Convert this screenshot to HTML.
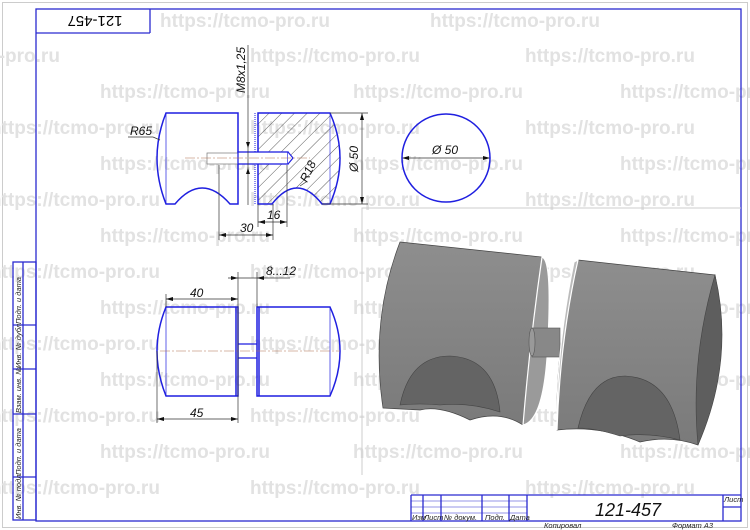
<!DOCTYPE html>
<html><head><meta charset="utf-8"><style>
html,body{margin:0;padding:0;background:#fff;}
svg{display:block;}
text{font-family:"Liberation Sans",sans-serif;}
</style></head><body>
<svg width="750" height="530" viewBox="0 0 750 530" xmlns="http://www.w3.org/2000/svg">
<defs>
<pattern id="hat" patternUnits="userSpaceOnUse" width="9" height="9" patternTransform="rotate(45)">
<line x1="0" y1="0" x2="0" y2="9" stroke="#333" stroke-width="0.8"/>
</pattern>
<linearGradient id="gb" x1="0" y1="0" x2="0" y2="1">
<stop offset="0" stop-color="#8e8e8e"/><stop offset="1" stop-color="#7a7a7a"/>
</linearGradient>
<clipPath id="sec"><path d="M258,113 L330,113 Q350,158 330,204 L322,204 Q297,172 272,204 L258,204 Z"/></clipPath>
</defs>
<rect x="0" y="0" width="750" height="530" fill="#fff"/>
<rect x="2.5" y="2.5" width="745" height="525" fill="none" stroke="#ccc"/>

<!-- watermarks -->
<g font-size="19" font-weight="bold" fill="#e2e2e2">
<text x="160" y="27">https://tcmo-pro.ru</text><text x="430" y="27">https://tcmo-pro.ru</text>
<text x="-110" y="62">https://tcmo-pro.ru</text><text x="250" y="62">https://tcmo-pro.ru</text><text x="525" y="62">https://tcmo-pro.ru</text>
<text x="100" y="98">https://tcmo-pro.ru</text><text x="353" y="98">https://tcmo-pro.ru</text><text x="620" y="98">https://tcmo-pro.ru</text>
<text x="-10" y="134">https://tcmo-pro.ru</text><text x="250" y="134">https://tcmo-pro.ru</text><text x="525" y="134">https://tcmo-pro.ru</text>
<text x="100" y="170">https://tcmo-pro.ru</text><text x="353" y="170">https://tcmo-pro.ru</text><text x="620" y="170">https://tcmo-pro.ru</text>
<text x="-10" y="206">https://tcmo-pro.ru</text><text x="250" y="206">https://tcmo-pro.ru</text><text x="525" y="206">https://tcmo-pro.ru</text>
<text x="100" y="242">https://tcmo-pro.ru</text><text x="353" y="242">https://tcmo-pro.ru</text><text x="620" y="242">https://tcmo-pro.ru</text>
<text x="-10" y="278">https://tcmo-pro.ru</text><text x="250" y="278">https://tcmo-pro.ru</text><text x="525" y="278">https://tcmo-pro.ru</text>
<text x="100" y="314">https://tcmo-pro.ru</text><text x="353" y="314">https://tcmo-pro.ru</text><text x="620" y="314">https://tcmo-pro.ru</text>
<text x="-10" y="350">https://tcmo-pro.ru</text><text x="250" y="350">https://tcmo-pro.ru</text><text x="525" y="350">https://tcmo-pro.ru</text>
<text x="100" y="386">https://tcmo-pro.ru</text><text x="353" y="386">https://tcmo-pro.ru</text><text x="620" y="386">https://tcmo-pro.ru</text>
<text x="-10" y="422">https://tcmo-pro.ru</text><text x="250" y="422">https://tcmo-pro.ru</text><text x="525" y="422">https://tcmo-pro.ru</text>
<text x="100" y="458">https://tcmo-pro.ru</text><text x="353" y="458">https://tcmo-pro.ru</text><text x="620" y="458">https://tcmo-pro.ru</text>
<text x="-10" y="494">https://tcmo-pro.ru</text><text x="250" y="494">https://tcmo-pro.ru</text><text x="525" y="494">https://tcmo-pro.ru</text>
</g>

<!-- frame -->
<g stroke="#2a2ad0" fill="none" stroke-width="1.3">
<rect x="36" y="9" width="705" height="512"/>
<line x1="36" y1="33" x2="150" y2="33"/><line x1="150" y1="9" x2="150" y2="33"/>
<rect x="13" y="262" width="23" height="258"/>
<line x1="23" y1="262" x2="23" y2="520"/>
<line x1="13" y1="325" x2="36" y2="325"/><line x1="13" y1="369" x2="36" y2="369"/>
<line x1="13" y1="414" x2="36" y2="414"/><line x1="13" y1="477" x2="36" y2="477"/>
<line x1="411" y1="495" x2="741" y2="495"/>
<line x1="411" y1="495" x2="411" y2="521"/>
<line x1="423" y1="495" x2="423" y2="521"/><line x1="441" y1="495" x2="441" y2="521"/>
<line x1="482" y1="495" x2="482" y2="521"/><line x1="509" y1="495" x2="509" y2="521"/>
<line x1="527" y1="495" x2="527" y2="521"/><line x1="723" y1="495" x2="723" y2="521"/>
<line x1="723" y1="507" x2="741" y2="507"/>
</g>
<g stroke="#2a2ad0" stroke-width="0.6">
<line x1="411" y1="501" x2="527" y2="501"/><line x1="411" y1="507" x2="527" y2="507"/><line x1="411" y1="513" x2="527" y2="513"/>
</g>
<text x="95" y="28" font-size="15" text-anchor="middle" transform="rotate(180 95 22)">121-457</text>
<g font-size="7.5" font-style="italic" fill="#222">
<text x="412" y="520">Изм</text><text x="424" y="520">Лист</text><text x="444" y="520">№ докум.</text><text x="485" y="520">Подп.</text><text x="510" y="520">Дата</text>
<text x="724" y="502">Лист</text>
<text x="544" y="528">Копировал</text><text x="672" y="528">Формат А3</text>
<g transform="rotate(-90)">
<text x="-519" y="21">Инв. № подл.</text><text x="-475" y="21">Подп. и дата</text><text x="-413" y="21">Взам. инв. №</text><text x="-368" y="21">Инв. № дубл.</text><text x="-324" y="21">Подп. и дата</text>
</g>
</g>
<text x="628" y="516" font-size="18" font-style="italic" text-anchor="middle" fill="#111">121-457</text>

<!-- 3D area -->
<path d="M362,475 L362,208 L741,208" fill="none" stroke="#ccc"/>
<path d="M400,242 L542,257 Q530,340 523,425 Q500,410 470,420 Q440,405 420,410 L383,408 Q370,320 400,242 Z" fill="url(#gb)" stroke="#444" stroke-width="0.7"/>
<path d="M542,257 Q552,260 548,340 Q545,420 523,425 Q530,340 542,257Z" fill="#9a9a9a" stroke="#fff" stroke-width="1.2"/>
<path d="M400,405 Q410,356 450,356 Q495,358 500,412 Q470,402 440,405 Q420,403 400,405Z" fill="#646464" stroke="#444" stroke-width="0.6"/>
<rect x="532" y="328" width="28" height="29" fill="#888" stroke="#555" stroke-width="0.6"/>
<ellipse cx="532" cy="342" rx="3" ry="14" fill="#999" stroke="#555" stroke-width="0.6"/>
<path d="M578,260 L715,275 Q732,360 698,445 Q670,435 640,442 Q600,425 557,430 Q555,340 578,260Z" fill="url(#gb)" stroke="#444" stroke-width="0.7"/>
<path d="M578,260 Q560,340 557,430 Q556,350 574,262Z" fill="#bbb" stroke="#fff" stroke-width="1.2"/>
<path d="M715,275 Q735,360 698,445 Q690,360 715,275Z" fill="#5e5e5e" stroke="#444" stroke-width="0.6"/>
<path d="M578,428 Q590,376 625,376 Q672,378 680,440 Q650,432 620,436 Q595,428 578,428Z" fill="#646464" stroke="#444" stroke-width="0.6"/>

<!-- top view left -->
<g fill="none" stroke="#1f1fe0" stroke-width="1.5">
<path d="M166,113 L238,113 L238,204 L230,204 Q202,172 175,204 L166,204 Q148,158 166,113 Z"/>
<line x1="166" y1="113" x2="166" y2="204" stroke-width="0.7"/>
</g>
<rect x="250" y="105" width="100" height="110" fill="url(#hat)" clip-path="url(#sec)"/>
<path d="M258,113 L330,113 Q350,158 330,204 L322,204 Q297,172 272,204 L258,204 Z" fill="none" stroke="#1f1fe0" stroke-width="1.5"/>
<line x1="330" y1="113" x2="330" y2="204" stroke="#1f1fe0" stroke-width="0.6"/>
<line x1="255" y1="113" x2="255" y2="204" stroke="#1f1fe0" stroke-width="1" stroke-dasharray="1,1"/>
<rect x="207" y="153" width="31" height="11" fill="#fff" stroke="#777" stroke-width="0.7"/>
<rect x="238" y="152" width="50" height="12" fill="#fff" stroke="#1f1fe0" stroke-width="1.3"/>
<path d="M288,152 L293,158 L288,164" fill="#fff" stroke="#1f1fe0" stroke-width="1.2"/>
<line x1="185" y1="158" x2="310" y2="158" stroke="#b07050" stroke-width="0.6" stroke-dasharray="10,2,2,2"/>
<g stroke="#333" stroke-width="0.7" fill="none">
<line x1="248" y1="45" x2="248" y2="205"/>
<line x1="330" y1="113" x2="368" y2="113"/><line x1="322" y1="204" x2="368" y2="204"/>
<line x1="362" y1="113" x2="362" y2="204"/>
<line x1="219" y1="165" x2="219" y2="240"/><line x1="273" y1="204" x2="273" y2="240"/>
<line x1="258" y1="204" x2="258" y2="227"/><line x1="287" y1="165" x2="287" y2="227"/>
<line x1="219" y1="235" x2="273" y2="235"/><line x1="258" y1="222" x2="287" y2="222"/>
<line x1="128" y1="137" x2="153" y2="137"/><line x1="153" y1="137" x2="160" y2="140"/>
<line x1="300" y1="186" x2="306" y2="182"/>
<line x1="402" y1="158" x2="490" y2="158"/>
</g>
<g fill="#111">
<path d="M362,113 l-2,7 h4z"/><path d="M362,204 l-2,-7 h4z"/>
<path d="M219,235 l7,-2 v4z"/><path d="M273,235 l-7,-2 v4z"/>
<path d="M258,222 l7,-2 v4z"/><path d="M287,222 l-7,-2 v4z"/>
<path d="M402,158 l7,-2 v4z"/><path d="M490,158 l-7,-2 v4z"/>
<path d="M248,148 l-2,-6 h4z"/><path d="M248,168 l-2,6 h4z"/>
</g>
<circle cx="446" cy="158" r="44" fill="none" stroke="#1f1fe0" stroke-width="1.5"/>
<g font-size="12" font-style="italic" fill="#111">
<text x="432" y="154">Ø 50</text>
<text x="130" y="135">R65</text>
<text x="240" y="232">30</text><text x="267" y="219">16</text>
<text transform="translate(358,172) rotate(-90)">Ø 50</text>
<text transform="translate(245,93) rotate(-90)">M8x1,25</text>
<text transform="translate(307,183) rotate(-65)">R18</text>
<text x="190" y="297">40</text><text x="190" y="417">45</text>
<text x="266" y="275">8...12</text>
</g>

<!-- bottom view -->
<g fill="none" stroke="#1f1fe0" stroke-width="1.5">
<path d="M166,307 L238,307 L238,396 L166,396 Q148,351 166,307Z"/>
<line x1="166" y1="307" x2="166" y2="396" stroke-width="0.7"/>
<line x1="236" y1="307" x2="236" y2="396"/>
<path d="M257,307 L330,307 Q350,351 330,396 L257,396 Z"/>
<line x1="259" y1="307" x2="259" y2="396"/>
<line x1="330" y1="307" x2="330" y2="396" stroke-width="0.7"/>
<path d="M238,344 H257 M238,358 H257" stroke-width="1.2"/>
</g>
<line x1="160" y1="351" x2="340" y2="351" stroke="#b07050" stroke-width="0.6" stroke-dasharray="10,2,2,2"/>
<g stroke="#333" stroke-width="0.7" fill="none">
<line x1="166" y1="294" x2="166" y2="307"/><line x1="238" y1="272" x2="238" y2="423"/>
<line x1="257" y1="272" x2="257" y2="307"/><line x1="157" y1="351" x2="157" y2="423"/>
<line x1="166" y1="299" x2="238" y2="299"/><line x1="157" y1="419" x2="238" y2="419"/>
<line x1="228" y1="278" x2="290" y2="278"/>
</g>
<g fill="#111">
<path d="M166,299 l7,-2 v4z"/><path d="M238,299 l-7,-2 v4z"/>
<path d="M157,419 l7,-2 v4z"/><path d="M238,419 l-7,-2 v4z"/>
<path d="M238,278 l-7,-2 v4z"/><path d="M257,278 l7,-2 v4z"/>
</g>
</svg>
</body></html>
